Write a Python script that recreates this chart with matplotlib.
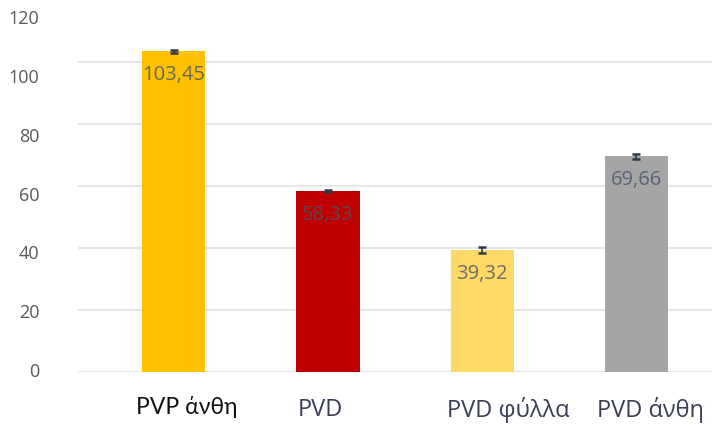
import matplotlib
matplotlib.use("Agg")
import matplotlib.pyplot as plt

categories = ["PVP άνθη", "PVD", "PVD φύλλα", "PVD άνθη"]
values = [103.45, 58.33, 39.32, 69.66]
errors = [0.4, 0.3, 1.0, 0.8]
value_labels = ["103,45", "58,33", "39,32", "69,66"]
bar_colors = ["#FFC000", "#C00000", "#FFD966", "#A5A5A5"]
y_ticks = [0, 20, 40, 60, 80, 100, 120]

plt.rcParams["font.family"] = ["Open Sans", "DejaVu Sans"]

fig = plt.figure(figsize=(7.12, 4.25), dpi=100)
ax = fig.add_axes([0.1096, 0.1247, 0.8904, 0.8753])

x = list(range(len(categories)))
ax.bar(x, values, width=0.41, color=bar_colors, zorder=2)
ax.errorbar(x, values, yerr=errors, fmt="none", ecolor="#2F3B4E",
            elinewidth=1.2, capsize=3, capthick=1.8, zorder=3)

for xi, v, lab in zip(x, values, value_labels):
    ax.text(xi, v - 7.7, lab, ha="center", va="center", fontsize=14.5,
            color="#44546A", alpha=0.8, zorder=4)

ax.set_xlim(-0.62, 3.49)
ax.set_ylim(0, 120)
ax.set_yticks(y_ticks[:-1])
ax.yaxis.grid(True, color="#E4E6EA", linewidth=1.5, zorder=0)
ax.tick_params(axis="y", length=0, labelleft=False)
ax.set_xticks([])
for s in ax.spines.values():
    s.set_visible(False)

# Value axis labels on a companion axis
ax2 = ax.twinx()
ax2.set_ylim(-0.685, 125.8)
ax2.set_yticks(y_ticks)
ax2.yaxis.tick_left()
ax2.tick_params(axis="y", length=0, pad=28, labelsize=13,
                labelcolor="#595959")
for s in ax2.spines.values():
    s.set_visible(False)

# Category labels
cat_dx = [0.084, -0.05, 0.168, 0.09]
cat_y = [-0.094, -0.102, -0.102, -0.102]
cat_size = [16.5, 17, 17, 17]
cat_color = ["#111111", "#3A3F55", "#3A3F55", "#3A3F55"]
cat_family = [["Lato", "DejaVu Sans"], ["Open Sans", "DejaVu Sans"],
              ["Open Sans", "DejaVu Sans"], ["Open Sans", "DejaVu Sans"]]
for xi, cat in zip(x, categories):
    ax.text(xi + cat_dx[xi], cat_y[xi], cat,
            transform=ax.get_xaxis_transform(), ha="center", va="center",
            fontsize=cat_size[xi], color=cat_color[xi],
            family=cat_family[xi])

fig.savefig("out.png", dpi=100)
